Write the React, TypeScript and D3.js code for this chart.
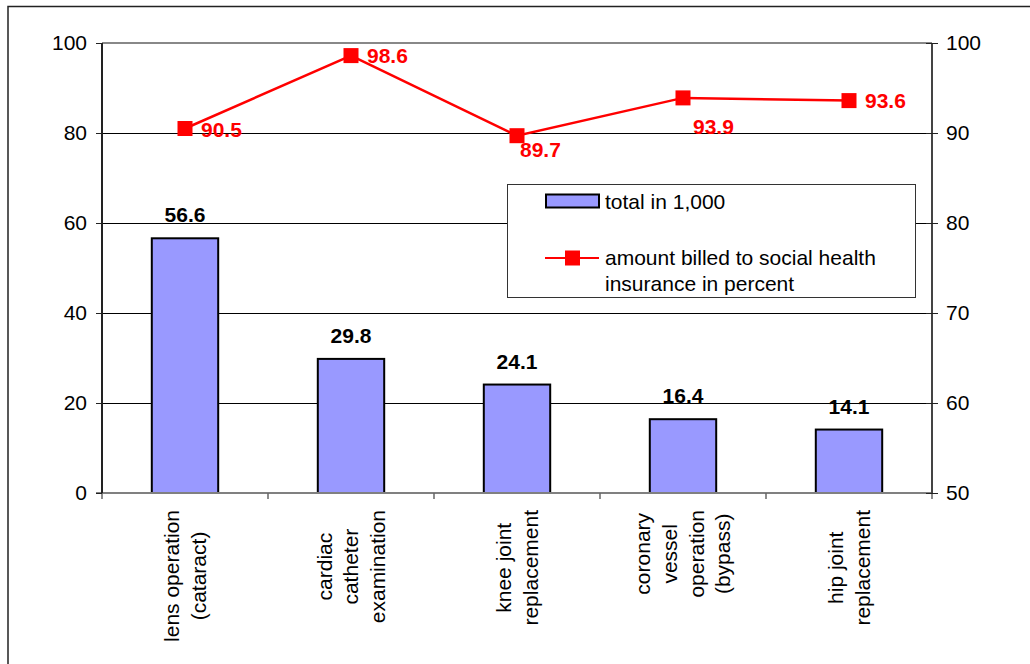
import React, { useEffect, useRef } from "react";
import * as d3 from "d3";

const categories: string[][] = [
  ["lens operation", "(cataract)"],
  ["cardiac", "catheter", "examination"],
  ["knee joint", "replacement"],
  ["coronary", "vessel", "operation", "(bypass)"],
  ["hip joint", "replacement"],
];
const totals = [56.6, 29.8, 24.1, 16.4, 14.1];
const percents = [90.5, 98.6, 89.7, 93.9, 93.6];
const leftTicks = [0, 20, 40, 60, 80, 100];
const rightTicks = [50, 60, 70, 80, 90, 100];
const barSeriesName = "total in 1,000";
const lineSeriesName = ["amount billed to social health", "insurance in percent"];
// label placement offsets relative to marker (style only)
const lineLabelOffsets: [number, number][] = [
  [16, 1],
  [16, 0],
  [3, 14],
  [10, 29],
  [16, 0],
];

const FONT = "'Liberation Sans', Arial, sans-serif";

export default function App() {
  const ref = useRef<SVGSVGElement | null>(null);

  useEffect(() => {
    document.body.style.margin = "0";
    document.body.style.overflow = "hidden";
    const svg = d3.select(ref.current);
    svg.selectAll("*").remove();

    const left = 102, right = 932, top = 43, bottom = 493;
    const x = d3
      .scaleBand<number>()
      .domain(d3.range(categories.length))
      .range([left, right])
      .paddingInner(0.6)
      .paddingOuter(0.3);
    const yL = d3.scaleLinear().domain([0, 100]).range([bottom, top]);
    const yR = d3.scaleLinear().domain([50, 100]).range([bottom, top]);
    const step = x.step();

    // outer frame
    svg.append("rect")
      .attr("x", 8).attr("y", 6.5).attr("width", 1100).attr("height", 800)
      .attr("fill", "none").attr("stroke", "#222").attr("stroke-width", 1.5);

    const g = svg.append("g").attr("font-family", FONT);
    leftTicks.forEach((t) => {
      if (t === 0 || t === 100) return;
      g.append("line")
        .attr("x1", left).attr("x2", right)
        .attr("y1", Math.round(yL(t)) + 0.5).attr("y2", Math.round(yL(t)) + 0.5)
        .attr("stroke", "#000").attr("stroke-width", 1);
    });
    g.append("line")
      .attr("x1", left).attr("x2", right)
      .attr("y1", yL(100)).attr("y2", yL(100))
      .attr("stroke", "#888").attr("stroke-width", 2);

    // bars
    g.selectAll("rect.bar")
      .data(totals)
      .enter()
      .append("rect")
      .attr("class", "bar")
      .attr("x", (_d, i) => x(i)!)
      .attr("width", x.bandwidth())
      .attr("y", (d) => yL(d))
      .attr("height", (d) => yL(0) - yL(d))
      .attr("fill", "#9999ff")
      .attr("stroke", "#000")
      .attr("stroke-width", 2);

    g.selectAll("text.bl")
      .data(totals)
      .enter()
      .append("text")
      .attr("x", (_d, i) => x(i)! + x.bandwidth() / 2)
      .attr("y", (d) => yL(d) - 16)
      .attr("text-anchor", "middle")
      .attr("font-size", 21)
      .attr("font-weight", "bold")
      .attr("fill", "#000")
      .text((d) => d.toFixed(1));

    g.append("line")
      .attr("x1", left - 6).attr("x2", right)
      .attr("y1", bottom).attr("y2", bottom)
      .attr("stroke", "#808080").attr("stroke-width", 2);
    d3.range(categories.length + 1).forEach((i) => {
      const xx = left + i * step;
      g.append("line")
        .attr("x1", xx).attr("x2", xx)
        .attr("y1", bottom).attr("y2", bottom + 6)
        .attr("stroke", "#666").attr("stroke-width", 1.5);
    });

    // left axis
    g.append("line")
      .attr("x1", left).attr("x2", left)
      .attr("y1", top).attr("y2", bottom)
      .attr("stroke", "#222").attr("stroke-width", 2);
    leftTicks.forEach((t) => {
      g.append("line")
        .attr("x1", left - 6).attr("x2", left)
        .attr("y1", Math.round(yL(t)) + 0.5).attr("y2", Math.round(yL(t)) + 0.5)
        .attr("stroke", "#222").attr("stroke-width", 1);
      g.append("text")
        .attr("x", 87).attr("y", yL(t))
        .attr("dy", "0.35em")
        .attr("text-anchor", "end")
        .attr("font-size", 21)
        .attr("fill", "#000")
        .text(String(t));
    });

    // right axis
    g.append("line")
      .attr("x1", right).attr("x2", right)
      .attr("y1", top).attr("y2", bottom)
      .attr("stroke", "#444").attr("stroke-width", 2);
    rightTicks.forEach((t) => {
      g.append("line")
        .attr("x1", right - 6).attr("x2", right + 6)
        .attr("y1", Math.round(yR(t)) + 0.5).attr("y2", Math.round(yR(t)) + 0.5)
        .attr("stroke", "#222").attr("stroke-width", 1);
      g.append("text")
        .attr("x", 946).attr("y", yR(t))
        .attr("dy", "0.35em")
        .attr("text-anchor", "start")
        .attr("font-size", 21)
        .attr("fill", "#000")
        .text(String(t));
    });

    // category labels (rotated)
    categories.forEach((lines, i) => {
      const cx = x(i)! + x.bandwidth() / 2;
      const lg = g.append("g");
      const texts = lines.map((ln) =>
        lg.append("text").attr("font-size", 21).attr("fill", "#000").attr("text-anchor", "middle").text(ln)
      );
      const maxW = d3.max(texts, (t) => (t.node() as SVGTextElement).getComputedTextLength()) || 0;
      const cy = 510 + maxW / 2;
      const lh = 26.7;
      const n = lines.length;
      texts.forEach((t, j) => {
        const lx = cx + (j - (n - 1) / 2) * lh;
        t.attr("transform", `translate(${lx},${cy}) rotate(-90)`).attr("dy", "0.35em");
      });
    });

    // line series
    const line = d3
      .line<number>()
      .x((_d, i) => x(i)! + x.bandwidth() / 2)
      .y((d) => yR(d));
    g.append("path")
      .attr("d", line(percents))
      .attr("fill", "none")
      .attr("stroke", "#ff0000")
      .attr("stroke-width", 2.5);
    const ms = 15;
    g.selectAll("rect.mk")
      .data(percents)
      .enter()
      .append("rect")
      .attr("x", (_d, i) => x(i)! + x.bandwidth() / 2 - ms / 2)
      .attr("y", (d) => yR(d) - ms / 2)
      .attr("width", ms)
      .attr("height", ms)
      .attr("fill", "#ff0000");
    g.selectAll("text.ll")
      .data(percents)
      .enter()
      .append("text")
      .attr("x", (_d, i) => x(i)! + x.bandwidth() / 2 + lineLabelOffsets[i][0])
      .attr("y", (d, i) => yR(d) + lineLabelOffsets[i][1])
      .attr("dy", "0.35em")
      .attr("font-size", 21)
      .attr("font-weight", "bold")
      .attr("fill", "#ff0000")
      .text((d) => d.toFixed(1));

    // legend
    const lx0 = 507.5, ly0 = 184.5, lw = 408, lhgt = 113;
    g.append("rect")
      .attr("x", lx0).attr("y", ly0).attr("width", lw).attr("height", lhgt)
      .attr("fill", "#fff").attr("stroke", "#333").attr("stroke-width", 1);
    g.append("rect")
      .attr("x", 546).attr("y", 194.5).attr("width", 53).attr("height", 13)
      .attr("fill", "#9999ff").attr("stroke", "#000").attr("stroke-width", 2);
    g.append("text")
      .attr("x", 605).attr("y", 201.5).attr("dy", "0.35em")
      .attr("font-size", 21).attr("fill", "#000").text(barSeriesName);
    g.append("line")
      .attr("x1", 545).attr("x2", 599).attr("y1", 258).attr("y2", 258)
      .attr("stroke", "#ff0000").attr("stroke-width", 2);
    g.append("rect")
      .attr("x", 565).attr("y", 250.5).attr("width", 15).attr("height", 15)
      .attr("fill", "#ff0000");
    lineSeriesName.forEach((ln, j) => {
      g.append("text")
        .attr("x", 605).attr("y", 258 + j * 25.5).attr("dy", "0.35em")
        .attr("font-size", 21).attr("fill", "#000").text(ln);
    });
  }, []);

  return <svg ref={ref} width={1030} height={664} style={{ display: "block", background: "#fff" }} />;
}
